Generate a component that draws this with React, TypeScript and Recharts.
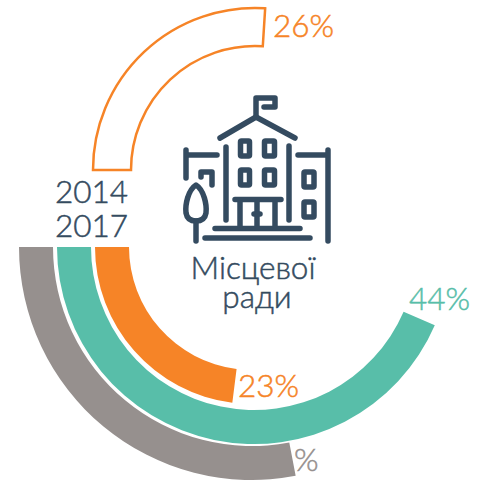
import { PieChart, Pie, Cell } from 'recharts'

const NAVY = '#344b60'
const ORANGE = '#f68427'
const TEAL = '#58bea9'
const GRAY = '#96908e'

const share2014 = [{ name: 'Місцевої ради', value: 26 }, { name: 'rest', value: 74 }]
const share2017 = [{ name: 'Місцевої ради', value: 23 }, { name: 'rest', value: 77 }]
const shareTeal = [{ name: 'Місцевої ради', value: 43.5 }, { name: 'rest', value: 56.5 }]
const shareGray = [{ name: 'Місцевої ради', value: 28 }, { name: 'rest', value: 72 }]

const labels = [
  { text: '26%', x: 273, y: 37, fill: ORANGE },
  { text: '23%', x: 238, y: 397, fill: ORANGE },
  { text: '44%', x: 409, y: 310, fill: TEAL },
  { text: '%', x: 294, y: 471, fill: GRAY },
  { text: '2014', x: 55, y: 203, fill: NAVY },
  { text: '2017', x: 55, y: 237, fill: NAVY },
]

function BuildingIcon() {
  return (
    <g fill="none" stroke={NAVY} strokeWidth={5.5} strokeLinecap="round" strokeLinejoin="round">
      <path d="M256 116 V98 H275 V107 H264" />
      <path d="M220 138 L256 117 L295 138" />
      <path d="M226 147 V220 M289 146 V220" />
      <rect x={240.5} y={141} width={9} height={15} rx={1} />
      <rect x={264.5} y={141} width={10} height={15} rx={1} />
      <rect x={240.5} y={170} width={9} height={15} rx={1} />
      <rect x={264.5} y={170} width={10} height={15} rx={1} />
      <rect x={304} y={172} width={10} height={15} rx={1} />
      <rect x={304} y={202} width={10} height={15} rx={1} />
      <path d="M235 199.5 H281 M240 200 V228 M275 200 V228 M257 200 V228" />
      <path d="M254 214 H260" />
      <path d="M215 228.5 H300 M205 238 H310" />
      <path d="M298 155 H328 M328 150 V241" />
      <path d="M186 150 V178 M186 155 H217 M201 177 V172 H212 V185" />
      <path d="M196 185 C188 190 185 205 186 213 C187 219 191 221 196 221 C201 221 205 219 206 213 C207 205 204 190 196 185 Z" />
      <path d="M196 221 V241" />
    </g>
  )
}

export default function App() {
  return (
    <div style={{ position: 'absolute', left: 0, top: 0, width: 481, height: 480, background: '#fff' }}>
      <PieChart width={481} height={480} margin={{ top: 0, right: 0, bottom: 0, left: 0 }}>
        <Pie data={share2014} dataKey="value" cx={255} cy={170} innerRadius={124} outerRadius={162}
          startAngle={180} endAngle={-180} isAnimationActive={false} stroke="none">
          <Cell fill="#fff" stroke={ORANGE} strokeWidth={2.5} />
          <Cell fill="none" stroke="none" />
        </Pie>
        <Pie data={share2017} dataKey="value" cx={252} cy={247} innerRadius={123} outerRadius={157}
          startAngle={180} endAngle={540} isAnimationActive={false} stroke="none">
          <Cell fill={ORANGE} />
          <Cell fill="none" stroke="none" />
        </Pie>
        <Pie data={shareTeal} dataKey="value" cx={254} cy={247} innerRadius={163} outerRadius={197}
          startAngle={180} endAngle={540} isAnimationActive={false} stroke="none">
          <Cell fill={TEAL} />
          <Cell fill="none" stroke="none" />
        </Pie>
        <Pie data={shareGray} dataKey="value" cx={252} cy={247} innerRadius={199} outerRadius={233}
          startAngle={180} endAngle={540} isAnimationActive={false} stroke="none">
          <Cell fill={GRAY} />
          <Cell fill="none" stroke="none" />
        </Pie>
      </PieChart>
      <svg width={481} height={480} style={{ position: 'absolute', left: 0, top: 0, pointerEvents: 'none' }}>
        <BuildingIcon />
        <g fontFamily="Lato" fontWeight={300} fontSize={31.5} strokeWidth={0.5}>
          {labels.map(l => (
            <text key={l.text} x={l.x} y={l.y} fill={l.fill} stroke={l.fill}>{l.text}</text>
          ))}
          <text x={253} y={279} fill={NAVY} stroke={NAVY} textAnchor="middle">Місцевої</text>
          <text x={257} y={308} fill={NAVY} stroke={NAVY} textAnchor="middle">ради</text>
        </g>
      </svg>
    </div>
  )
}
